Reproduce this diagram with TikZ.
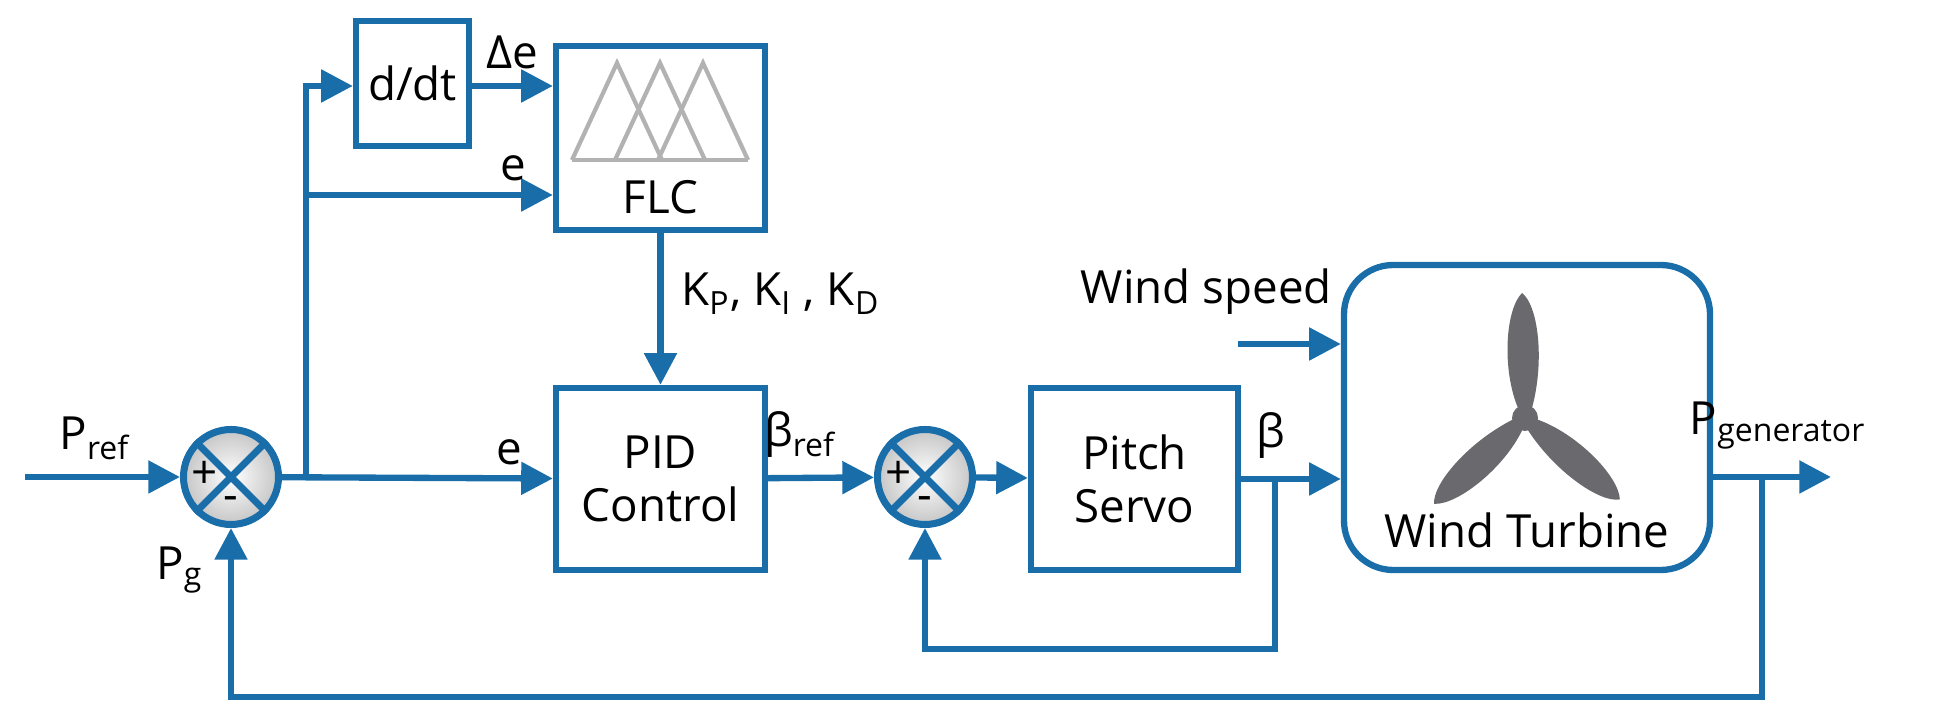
\documentclass[tikz,border=0pt]{standalone}
\usepackage{fontspec}
\setmainfont{Open Sans}
\usetikzlibrary{arrows.meta,positioning,calc}

\definecolor{lineblue}{RGB}{25,110,170}
\definecolor{bladegray}{RGB}{105,105,110}

\tikzset{
  blk/.style={draw=lineblue,line width=1.8pt,minimum width=#1},
  sig/.style={draw=lineblue,line width=1.8pt,-{Triangle[length=9pt,width=9pt]}},
  wire/.style={draw=lineblue,line width=1.8pt},
  lbl/.style={font=\fontsize{13}{15}\selectfont,inner sep=1pt},
  summer/.style={circle,draw=lineblue,line width=2pt,minimum size=0.95cm,inner sep=0pt,
    inner color=white,outer color=gray!45},
  blade/.style={fill=bladegray}
}

\begin{document}
\begin{tikzpicture}[x=1cm,y=1cm]
  \useasboundingbox (0,0) rectangle (19.51,7.25);

  % blocks
  \node[summer] (sum1) at (2.31,2.48) {};
  \node[summer] (sum2) at (9.25,2.48) {};
  \node[blk=1.13cm,minimum height=1.25cm,lbl] (ddt) at (4.125,6.415) {d/dt};
  \node[blk=2.09cm,minimum height=1.84cm] (flc) at (6.605,5.87) {};
  \node[blk=2.09cm,minimum height=1.82cm,lbl,align=center] (pid) at (6.605,2.46) {PID\\Control};
  \node[blk=2.07cm,minimum height=1.82cm,lbl,align=center] (servo) at (11.345,2.46) {Pitch\\Servo};
  \node[blk=3.66cm,minimum height=3.05cm,rounded corners=14pt] (wt) at (15.27,3.075) {};

  % summer crosses and signs
  \foreach \s in {sum1,sum2}{
    \draw[lineblue,line width=2pt] (\s.45) -- (\s.225) (\s.135) -- (\s.315);
    \node[lbl] at ($(\s.center)+(-0.26,0.02)$) {+};
    \node[lbl] at ($(\s.center)+(0,-0.27)$) {-};
  }

  % fuzzy sets in FLC
  \draw[gray!60,line width=1.2pt] (5.72,5.65) -- (7.48,5.65);
  \foreach \c in {6.17,6.60,7.03}{
    \draw[gray!60,line width=1.2pt] (\c-0.45,5.65) -- (\c,6.62) -- (\c+0.45,5.65);
  }
  \node[lbl] at (6.605,5.28) {FLC};

  % turbine
  \coordinate (hub) at (15.25,3.07);
  \foreach \a in {90,222,318}{
    \fill[blade,rotate around={\a-90:(hub)}] ($(hub)+(-0.07,0.1)$)
      .. controls (15.02,3.55) and (15.05,4.15) .. (15.22,4.32)
      .. controls (15.38,4.20) and (15.45,3.65) .. ($(hub)+(0.07,0.1)$) -- cycle;
  }
  \fill[bladegray] (hub) circle (0.13);
  \node[lbl] (wtname) at (15.27,1.95) {Wind Turbine};

  % signal routing
  \coordinate (pin) at (0.25,2.48);
  \coordinate (br1) at (3.06,2.48);
  \coordinate (pout) at (18.31,2.48);
  \coordinate (br3) at (17.62,2.48);
  \coordinate (br2) at (12.75,2.48);
  \coordinate (wsin) at (12.38,3.81);

  \draw[sig] (pin) -- node[lbl,above=3pt,pos=0.45] {P\textsubscript{ref}} (sum1);
  \draw[sig] (sum1) -- node[lbl,above=2pt,pos=0.84] {e} (pid);
  \draw[sig] (br1) |- (ddt.west |- 0,6.39);
  \draw[sig] (br1) |- node[lbl,above=2pt,pos=0.92] {e} (flc.west |- 0,5.30);
  \draw[sig] (ddt.east |- 0,6.39) -- node[lbl,above=3pt] {Δe} (flc.west |- 0,6.39);
  \draw[sig] (flc) -- node[lbl,right=4pt,pos=0.4] {K\textsubscript{P}, K\textsubscript{I} , K\textsubscript{D}} (pid);
  \draw[sig] (pid) -- node[lbl,above=4pt,pos=0.3] {β\textsubscript{ref}} (sum2);
  \draw[sig] (sum2) -- (servo);
  \draw[sig] (servo) -- node[lbl,above=4pt,pos=0.3] {β} (wt.west |- servo);
  \draw[sig] (wsin) -- (wt.west |- wsin);
  \node[lbl,anchor=south east] (ws) at ($(wt.west |- wsin)+(-0.05,0.25)$) {Wind speed};
  \draw[sig] (wt.east |- pout) -- node[lbl,above=6pt,pos=0.55] {P\textsubscript{generator}} (pout);
  \draw[sig] (br2) |- (9.25,0.76) -- (sum2);
  \draw[sig] (br3) |- (2.31,0.28) -- node[lbl,left=6pt,pos=0.75] {P\textsubscript{g}} (sum1);
\end{tikzpicture}
\end{document}
